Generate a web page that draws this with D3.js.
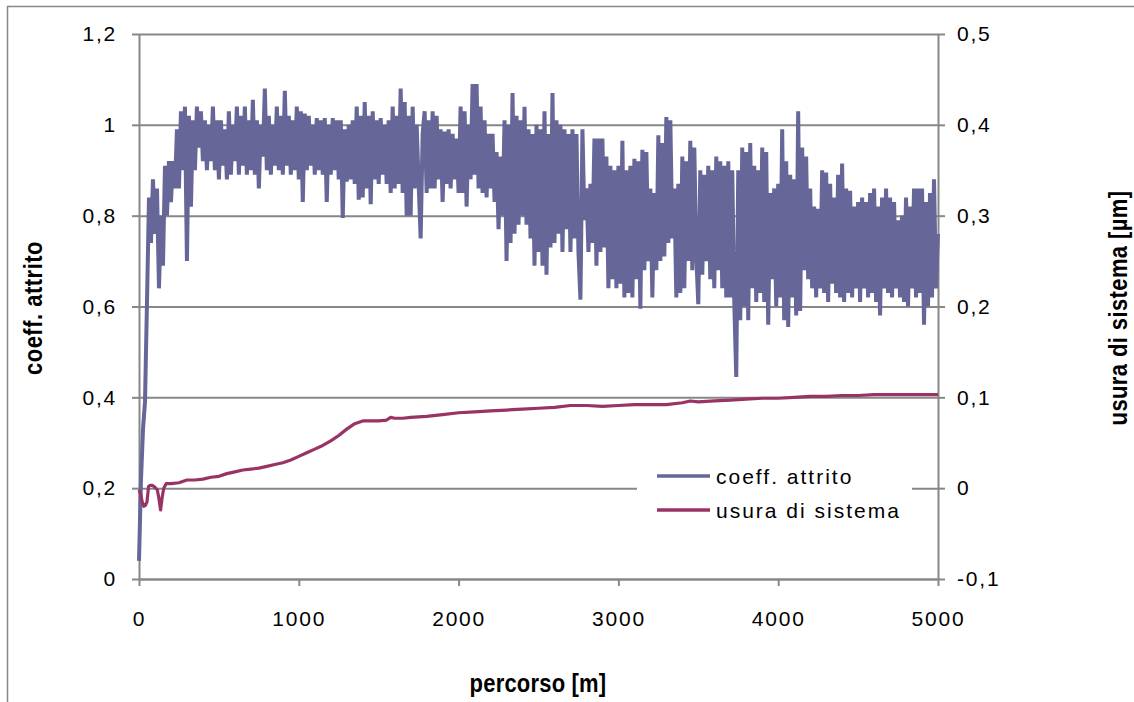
<!DOCTYPE html>
<html>
<head>
<meta charset="utf-8">
<script src="https://cdn.jsdelivr.net/npm/d3@7/dist/d3.min.js"></script>
<style>
  html, body { margin: 0; padding: 0; background: #ffffff; }
  svg { display: block; }
  text { font-family: "Liberation Sans", Arial, sans-serif; fill: #000; }
</style>
</head>
<body>
<svg id="chart" width="1134" height="702"></svg>
<script>
// Coefficiente d'attrito, un campione ogni 12,5 m di percorso (0 … 5000 m)
const passoAttrito = 12.5;
const coeffAttrito = [
  0.04, 0.22, 0.33, 0.39, 0.61, 0.84, 0.74, 0.88,
  0.76, 0.86, 0.64, 0.80, 0.69, 0.91, 0.80, 0.92,
  0.83, 0.92, 0.86, 0.99, 0.86, 1.03, 0.90, 1.04,
  0.70, 1.02, 0.82, 1.01, 0.90, 1.04, 0.95, 1.03,
  0.92, 1.01, 0.90, 1.00, 0.92, 1.04, 0.90, 1.01,
  0.88, 1.01, 0.91, 0.99, 0.88, 1.03, 0.89, 1.00,
  0.92, 1.04, 0.89, 1.02, 0.91, 1.04, 0.89, 1.01,
  0.90, 1.055, 0.89, 1.01, 0.86, 1.00, 0.93, 1.08,
  0.90, 1.02, 0.89, 1.00, 0.91, 1.04, 0.90, 1.02,
  0.89, 1.075, 0.91, 1.02, 0.89, 1.01, 0.90, 1.04,
  0.88, 1.03, 0.83, 1.025, 0.90, 1.02, 0.91, 1.00,
  0.89, 1.015, 0.90, 1.01, 0.89, 1.015, 0.83, 1.00,
  0.89, 1.015, 0.90, 1.01, 0.88, 1.01, 0.795, 0.99,
  0.875, 1.00, 0.88, 1.01, 0.87, 1.04, 0.835, 1.02,
  0.84, 1.05, 0.86, 1.02, 0.825, 1.03, 0.88, 1.01,
  0.87, 1.015, 0.89, 1.00, 0.87, 1.01, 0.85, 1.04,
  0.86, 1.02, 0.87, 1.08, 0.85, 1.05, 0.80, 1.02,
  0.80, 1.04, 0.86, 1.00, 0.87, 0.75, 0.98, 1.03,
  0.85, 1.01, 0.86, 1.03, 0.86, 1.02, 0.88, 0.99,
  0.83, 0.985, 0.87, 0.99, 0.86, 0.98, 0.88, 0.97,
  0.85, 1.04, 0.85, 1.03, 0.82, 1.00, 0.88, 1.09,
  0.89, 1.09, 0.86, 1.04, 0.85, 1.01, 0.84, 0.98,
  0.86, 0.98, 0.83, 0.94, 0.77, 0.93, 0.80, 1.01,
  0.70, 1.00, 0.74, 1.07, 0.76, 1.02, 0.78, 1.01,
  0.80, 1.04, 0.78, 0.99, 0.75, 0.98, 0.69, 1.00,
  0.72, 0.99, 0.69, 1.03, 0.67, 0.98, 0.73, 1.07,
  0.74, 1.01, 0.76, 1.00, 0.72, 0.99, 0.77, 0.98,
  0.72, 0.99, 0.75, 0.98, 0.72, 0.615, 0.99, 0.79,
  0.86, 0.72, 0.87, 0.74, 0.97, 0.69, 0.97, 0.72,
  0.97, 0.73, 0.93, 0.64, 0.91, 0.66, 0.90, 0.64,
  0.91, 0.65, 0.965, 0.62, 0.90, 0.63, 0.91, 0.62,
  0.925, 0.66, 0.92, 0.595, 0.945, 0.68, 0.94, 0.70,
  0.86, 0.62, 0.85, 0.68, 0.977, 0.70, 0.96, 0.71,
  1.017, 0.74, 1.01, 0.75, 0.86, 0.62, 0.87, 0.63,
  0.93, 0.64, 0.92, 0.70, 0.965, 0.68, 0.95, 0.71,
  0.605, 0.90, 0.67, 0.89, 0.70, 0.91, 0.66, 0.90,
  0.64, 0.93, 0.68, 0.92, 0.64, 0.91, 0.62, 0.92,
  0.62, 0.90, 0.61, 0.445, 0.90, 0.57, 0.95, 0.60,
  0.94, 0.57, 0.96, 0.64, 0.91, 0.61, 0.90, 0.63,
  0.95, 0.61, 0.94, 0.56, 0.85, 0.66, 0.86, 0.60,
  0.87, 0.62, 0.99, 0.57, 0.92, 0.555, 0.89, 0.62,
  0.88, 0.58, 1.03, 0.59, 0.95, 0.68, 0.93, 0.66,
  0.86, 0.64, 0.82, 0.62, 0.815, 0.64, 0.90, 0.63,
  0.895, 0.61, 0.87, 0.65, 0.84, 0.63, 0.89, 0.62,
  0.915, 0.61, 0.86, 0.63, 0.855, 0.62, 0.82, 0.64,
  0.83, 0.61, 0.84, 0.64, 0.83, 0.62, 0.85, 0.63,
  0.86, 0.61, 0.82, 0.58, 0.84, 0.64, 0.86, 0.63,
  0.84, 0.62, 0.83, 0.64, 0.79, 0.62, 0.80, 0.61,
  0.84, 0.60, 0.82, 0.64, 0.86, 0.62, 0.86, 0.63,
  0.86, 0.56, 0.83, 0.60, 0.85, 0.62, 0.88, 0.64,
  0.76
];

// Usura di sistema [µm] in funzione del percorso [m]
const percorsoUsura = [
  0, 10, 20, 30, 40, 50, 60, 70, 85, 100, 115, 125, 135, 145, 155, 170,
  200, 250, 300, 350, 400, 450, 500, 550, 600, 650, 700, 750, 800, 850,
  900, 950, 1000, 1050, 1100, 1150, 1200, 1250, 1300, 1350, 1400, 1450,
  1500, 1550, 1575, 1600, 1650, 1700, 1800, 1900, 2000, 2100, 2200, 2300,
  2400, 2500, 2600, 2700, 2800, 2900, 3000, 3100, 3200, 3300, 3400, 3450,
  3500, 3600, 3700, 3800, 3900, 4000, 4100, 4200, 4300, 4400, 4500, 4600,
  4700, 4800, 4900, 5000
];
const usuraSistema = [
  -0.002, -0.006, -0.015, -0.020, -0.019, -0.015, 0.002, 0.003, 0.003, 0.001, -0.002, -0.012, -0.024, -0.010, 0.000, 0.005,
  0.005, 0.006, 0.009, 0.009, 0.010, 0.012, 0.013, 0.016, 0.018, 0.020, 0.021, 0.022, 0.024, 0.026,
  0.028, 0.031, 0.035, 0.039, 0.043, 0.047, 0.052, 0.058, 0.065, 0.071, 0.074, 0.074,
  0.074, 0.075, 0.078, 0.077, 0.077, 0.078, 0.079, 0.081, 0.083, 0.084, 0.085, 0.086,
  0.087, 0.088, 0.089, 0.091, 0.091, 0.090, 0.091, 0.092, 0.092, 0.092, 0.094, 0.096,
  0.095, 0.096, 0.097, 0.098, 0.099, 0.099, 0.100, 0.101, 0.101, 0.102, 0.102, 0.103,
  0.103, 0.103, 0.103, 0.103
];

// Tacche degli assi
const tacchePercorso = [0, 1000, 2000, 3000, 4000, 5000];
const taccheAttrito = [0, 0.2, 0.4, 0.6, 0.8, 1.0, 1.2];
const taccheUsura = [-0.1, 0, 0.1, 0.2, 0.3, 0.4, 0.5];

const nomiSerie = ["coeff. attrito", "usura di sistema"];
const coloriSerie = ["#666699", "#993366"];

const titoloX = "percorso [m]";
const titoloY = "coeff. attrito";
const titoloY2 = "usura di sistema [µm]";

// Formato numerico italiano (virgola decimale, trattino per il segno meno)
const it = d3.formatLocale({ decimal: ",", thousands: ".", grouping: [3], currency: ["", " €"], minus: "-" });
const fmt = v => it.format("~g")(+v.toFixed(4));

const svg = d3.select("#chart");
const area = { left: 139, right: 938, top: 34, bottom: 579 };

const x = d3.scaleLinear().domain([0, 5000]).range([area.left, area.right]);
const yL = d3.scaleLinear().domain([0, 1.2]).range([area.bottom, area.top]);
const yR = d3.scaleLinear().domain([-0.1, 0.5]).range([area.bottom, area.top]);

const grigio = "#878787";

// Cornice esterna
svg.append("path")
  .attr("d", "M7.5,702 L7.5,6.5 L1134,6.5")
  .attr("fill", "none").attr("stroke", grigio).attr("stroke-width", 1.5);

// Griglia orizzontale
svg.append("g")
  .attr("transform", `translate(${area.left},0)`)
  .call(d3.axisLeft(yL).tickValues(taccheAttrito).tickSize(-(area.right - area.left)).tickFormat(""))
  .call(g => g.select(".domain").remove())
  .call(g => g.selectAll("line").attr("stroke", grigio).attr("stroke-width", 2));

function stileAsse(g) {
  g.select(".domain").attr("stroke", grigio).attr("stroke-width", 2);
  g.selectAll(".tick line").attr("stroke", grigio).attr("stroke-width", 2);
  g.selectAll(".tick text")
    .attr("font-family", "Liberation Sans, Arial, sans-serif")
    .attr("font-size", 21).attr("letter-spacing", "1.8px").attr("fill", "#000");
}

// Asse sinistro
svg.append("g")
  .attr("transform", `translate(${area.left},0)`)
  .call(d3.axisLeft(yL).tickValues(taccheAttrito).tickSize(7).tickPadding(15).tickSizeOuter(0).tickFormat(fmt))
  .call(stileAsse);

// Asse destro
svg.append("g")
  .attr("transform", `translate(${area.right},0)`)
  .call(d3.axisRight(yR).tickValues(taccheUsura).tickSize(7).tickPadding(12).tickSizeOuter(0).tickFormat(fmt))
  .call(stileAsse);

// Asse orizzontale
svg.append("g")
  .attr("transform", `translate(0,${area.bottom})`)
  .call(d3.axisBottom(x).tickValues(tacchePercorso).tickSize(7).tickPadding(25).tickSizeOuter(0).tickFormat(d => String(d)))
  .call(stileAsse);

// Serie: coefficiente d'attrito (asse sinistro)
const lineaAttrito = d3.line()
  .x((d, i) => x(i * passoAttrito))
  .y(d => yL(d));
svg.append("path")
  .datum(coeffAttrito)
  .attr("d", lineaAttrito)
  .attr("fill", "none")
  .attr("stroke", coloriSerie[0])
  .attr("stroke-width", 4)
  .attr("stroke-linejoin", "bevel");

// Serie: usura di sistema (asse destro)
const lineaUsura = d3.line()
  .x((d, i) => x(percorsoUsura[i]))
  .y(d => yR(d));
svg.append("path")
  .datum(usuraSistema)
  .attr("d", lineaUsura)
  .attr("fill", "none")
  .attr("stroke", coloriSerie[1])
  .attr("stroke-width", 3.2)
  .attr("stroke-linejoin", "round");

// Legenda
const legenda = svg.append("g").attr("transform", "translate(637,462)");
legenda.append("rect").attr("width", 275).attr("height", 63).attr("fill", "#fff");
nomiSerie.forEach((nome, i) => {
  const yy = 14 + i * 34;
  legenda.append("line")
    .attr("x1", 20).attr("x2", 73).attr("y1", yy).attr("y2", yy)
    .attr("stroke", coloriSerie[i]).attr("stroke-width", 3.5);
  legenda.append("text")
    .attr("x", 79).attr("y", yy + 8)
    .attr("font-size", 21).attr("letter-spacing", "2px")
    .text(nome);
});

// Titoli degli assi (grassetto, leggermente allungati in altezza)
svg.append("text")
  .attr("transform", "translate(538,692) scale(1,1.2)")
  .attr("text-anchor", "middle")
  .attr("font-weight", "bold").attr("font-size", 22).attr("letter-spacing", "0.2px")
  .text(titoloX);

svg.append("text")
  .attr("transform", "translate(42,308) rotate(-90) scale(1,1.2)")
  .attr("text-anchor", "middle")
  .attr("font-weight", "bold").attr("font-size", 22).attr("letter-spacing", "0.5px")
  .text(titoloY);

svg.append("text")
  .attr("transform", "translate(1127,308) rotate(-90) scale(1,1.2)")
  .attr("text-anchor", "middle")
  .attr("font-weight", "bold").attr("font-size", 22).attr("letter-spacing", "0.4px")
  .text(titoloY2);
</script>
</body>
</html>
